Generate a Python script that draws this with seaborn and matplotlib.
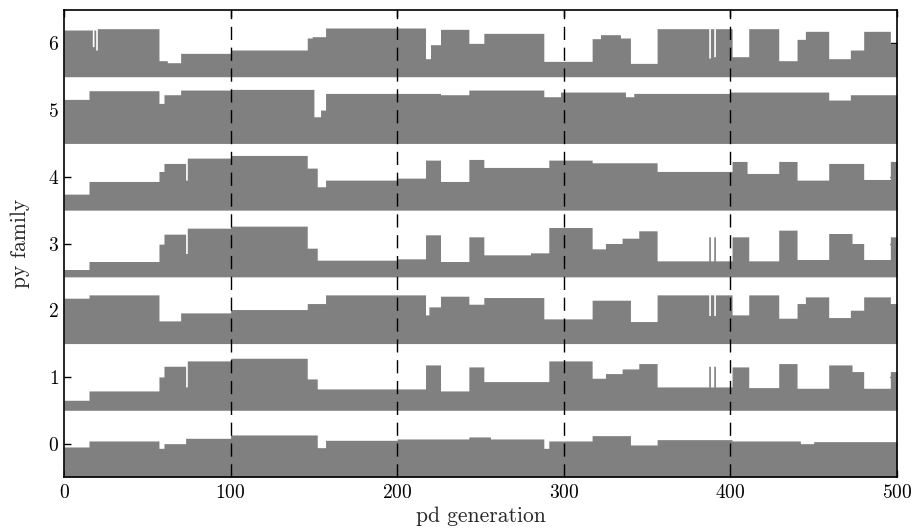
import numpy as np
import pandas as pd
import matplotlib
matplotlib.use("Agg")
import matplotlib.pyplot as plt
import seaborn as sns

# ---- data: piecewise levels per family (segment start generation, level) ----
n_gen = 500
families = [0, 1, 2, 3, 4, 5, 6]
x_ticks = [0, 100, 200, 300, 400, 500]
y_ticks = [0, 1, 2, 3, 4, 5, 6]

edges0 = [0, 15, 57, 60, 73, 100, 152, 157, 200, 243, 256, 288, 291, 317, 340, 356, 401, 442, 450]
levels0 = [-0.05, 0.04, -0.07, 0.0, 0.08, 0.13, -0.06, 0.05, 0.07, 0.1, 0.07, -0.07, 0.04, 0.12, -0.02, 0.06, 0.04, 0.0, 0.03]

edges1 = [0, 15, 57, 60, 73, 74, 100, 146, 152, 217, 226, 243, 252, 291, 317, 325, 335, 345, 356, 387, 388, 390, 391, 401, 411, 429, 440, 459, 473, 480, 496]
levels1 = [0.65, 0.79, 1.0, 1.16, 0.85, 1.24, 1.28, 0.97, 0.82, 1.18, 0.79, 1.15, 0.93, 1.24, 0.98, 1.05, 1.12, 1.2, 0.85, 1.16, 0.85, 1.16, 0.85, 1.15, 0.84, 1.2, 0.83, 1.18, 1.08, 0.83, 1.08]

edges2 = [0, 15, 57, 70, 100, 146, 157, 217, 219, 226, 243, 252, 288, 317, 340, 356, 387, 388, 390, 391, 401, 411, 429, 440, 445, 459, 472, 480, 496]
levels2 = [2.18, 2.23, 1.84, 1.96, 2.01, 2.1, 2.23, 1.93, 2.05, 2.21, 2.09, 2.19, 1.87, 2.15, 1.83, 2.23, 1.92, 2.23, 1.92, 2.23, 1.93, 2.23, 1.88, 2.1, 2.2, 1.89, 2.0, 2.2, 2.1]

edges3 = [0, 15, 57, 60, 73, 74, 100, 146, 152, 200, 217, 226, 243, 252, 280, 291, 317, 325, 335, 345, 356, 387, 388, 390, 391, 401, 411, 429, 440, 459, 473, 480, 496]
levels3 = [2.61, 2.73, 2.99, 3.14, 2.85, 3.23, 3.26, 2.93, 2.75, 2.77, 3.13, 2.73, 3.1, 2.83, 2.86, 3.24, 2.92, 3.0, 3.08, 3.19, 2.74, 3.1, 2.74, 3.1, 2.74, 3.1, 2.74, 3.2, 2.76, 3.15, 3.0, 2.76, 3.1]

edges4 = [0, 15, 57, 60, 73, 74, 100, 146, 152, 157, 200, 217, 226, 243, 252, 291, 317, 356, 401, 410, 429, 440, 459, 480, 496]
levels4 = [3.74, 3.93, 4.08, 4.2, 3.95, 4.28, 4.32, 4.13, 3.85, 3.95, 3.98, 4.25, 3.93, 4.26, 4.14, 4.25, 4.21, 4.08, 4.23, 4.05, 4.23, 3.95, 4.2, 3.96, 4.23]

edges5 = [0, 15, 57, 60, 70, 100, 150, 154, 157, 226, 243, 288, 298, 337, 342, 400, 459, 472]
levels5 = [5.16, 5.29, 5.1, 5.23, 5.3, 5.31, 4.9, 5.0, 5.25, 5.23, 5.3, 5.2, 5.27, 5.2, 5.25, 5.27, 5.15, 5.23]

edges6 = [0, 17, 18, 19, 20, 57, 62, 70, 100, 146, 149, 157, 217, 220, 226, 243, 252, 288, 317, 322, 334, 340, 356, 387, 388, 390, 391, 401, 411, 429, 440, 445, 459, 472, 480, 496]
levels6 = [6.2, 5.95, 6.2, 5.9, 6.22, 5.74, 5.71, 5.85, 5.9, 6.08, 6.1, 6.23, 5.77, 5.98, 6.21, 6.0, 6.15, 5.73, 6.07, 6.13, 6.08, 5.7, 6.22, 5.78, 6.22, 5.8, 6.22, 5.8, 6.22, 5.74, 6.06, 6.18, 5.77, 5.9, 6.18, 6.0]

segments = {0: (edges0, levels0), 1: (edges1, levels1), 2: (edges2, levels2),
            3: (edges3, levels3), 4: (edges4, levels4), 5: (edges5, levels5),
            6: (edges6, levels6)}


def expand(edges, levels):
    counts = np.diff(list(edges) + [n_gen])
    return np.repeat(levels, counts)


rows = []
for fam in families:
    vals = expand(*segments[fam])
    rows.append(pd.DataFrame({"generation": np.arange(n_gen), "family": fam, "value": vals}))
df = pd.concat(rows, ignore_index=True)

# ---- style ----
sns.set_style("ticks", {"xtick.direction": "in", "ytick.direction": "in"})
plt.rcParams["font.family"] = ["cmr10", "DejaVu Serif"]
plt.rcParams["mathtext.fontset"] = "cm"
plt.rcParams["axes.formatter.use_mathtext"] = True

fig = plt.figure(figsize=(9.14, 5.30), dpi=100)
ax = fig.add_axes([64 / 914, 1 - 477 / 530, (897 - 64) / 914, (477 - 10) / 530])

gray = "#808080"
for fam, sub in df.groupby("family"):
    x = np.append(sub["generation"].to_numpy(), n_gen)
    y = np.append(sub["value"].to_numpy(), sub["value"].to_numpy()[-1])
    ax.fill_between(x, fam - 0.5, y, step="post", color=gray, linewidth=0, zorder=2)

for xv in x_ticks[1:-1]:
    ax.axvline(xv, color="black", linewidth=1.0, linestyle=(0, (9.5, 5.5)), zorder=3)

ax.set_xlim(0, 500)
ax.set_ylim(-0.5, 6.5)
ax.set_xticks(x_ticks)
ax.set_yticks(y_ticks)
ax.tick_params(axis="both", which="major", direction="in", length=5, width=1,
               top=True, right=True, labelsize=14, colors="black")
ax.tick_params(axis="x", pad=5)
for s in ax.spines.values():
    s.set_linewidth(1.2)
    s.set_color("black")
    s.set_zorder(4)

ax.set_xlabel("pd generation", fontsize=15.5, labelpad=3)
ax.set_ylabel("py family", fontsize=15.5, labelpad=13)

fig.savefig("out.png", dpi=100)
